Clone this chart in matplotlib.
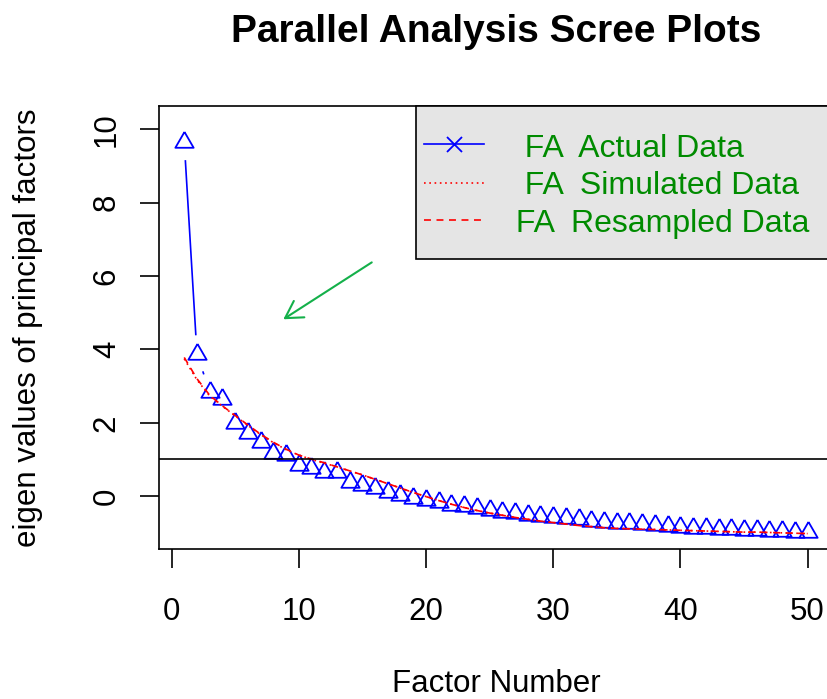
import numpy as np
import matplotlib
matplotlib.use("Agg")
import matplotlib.pyplot as plt
from matplotlib.patches import Rectangle, ArrowStyle
from matplotlib.lines import Line2D

# ---------------- data ----------------
factor_number = list(range(1, 51))
fa_actual = [9.66, 3.88, 2.84, 2.64, 1.98, 1.71, 1.47, 1.17, 1.12, 0.85,
             0.76, 0.67, 0.67, 0.38, 0.30, 0.21, 0.12, 0.03, -0.04, -0.11,
             -0.17, -0.23, -0.28, -0.33, -0.38, -0.42, -0.46, -0.50, -0.53, -0.56,
             -0.60, -0.63, -0.67, -0.70, -0.72, -0.74, -0.76, -0.79, -0.82, -0.84,
             -0.86, -0.87, -0.89, -0.90, -0.92, -0.93, -0.94, -0.96, -0.97, -0.99]
fa_simulated = [3.74, 3.17, 2.73, 2.45, 2.19, 1.93, 1.68, 1.46, 1.27, 1.12,
                1.00, 0.90, 0.80, 0.69, 0.58, 0.46, 0.34, 0.22, 0.10, -0.01,
                -0.12, -0.22, -0.31, -0.39, -0.46, -0.52, -0.58, -0.63, -0.68, -0.72,
                -0.76, -0.80, -0.83, -0.86, -0.88, -0.89, -0.90, -0.91, -0.92, -0.93,
                -0.94, -0.95, -0.96, -0.97, -0.98, -0.98, -0.99, -1.00, -1.01, -1.02]
fa_resampled = [3.78, 3.20, 2.75, 2.46, 2.20, 1.94, 1.69, 1.47, 1.28, 1.12,
                1.01, 0.91, 0.80, 0.69, 0.58, 0.46, 0.34, 0.22, 0.10, -0.01,
                -0.12, -0.22, -0.31, -0.39, -0.46, -0.52, -0.58, -0.63, -0.68, -0.72,
                -0.76, -0.80, -0.83, -0.86, -0.88, -0.89, -0.90, -0.91, -0.92, -0.93,
                -0.94, -0.95, -0.96, -0.97, -0.98, -0.98, -0.99, -1.00, -1.01, -1.02]
reference_line = 1.0
x_ticks = [0, 10, 20, 30, 40, 50]
y_ticks = [0, 2, 4, 6, 8, 10]
legend_labels = ["  FA  Actual Data", "  FA  Simulated Data", " FA  Resampled Data"]
title = "Parallel Analysis Scree Plots"
x_label = "Factor Number"
y_label = "eigen values of principal factors"
arrow_tail = (15.74, 6.37)
arrow_tip = (8.79, 4.82)

# ---------------- style ----------------
plt.rcParams['font.family'] = ['Liberation Sans', 'DejaVu Sans']
plt.rcParams['lines.scale_dashes'] = False
FS = 22.5
LW = 1.2

W, H = 827, 699
fig = plt.figure(figsize=(W / 100, H / 100), dpi=100)
left_px, right_px, top_px, bot_px = 159.3, 832.5, 105.7, 549.0
ax = fig.add_axes([left_px / W, 1 - bot_px / H, (right_px - left_px) / W, (bot_px - top_px) / H])
ax.set_xlim(-0.96, 51.96)
ax.set_ylim(-1.44, 10.64)

for s in ax.spines.values():
    s.set_linewidth(LW)
    s.set_color('black')

ax.set_xticks(x_ticks)
ax.set_yticks(y_ticks)
ax.tick_params(direction='out', length=13.7, width=LW, labelsize=FS, colors='black')
ax.tick_params(axis='x', pad=20.5)
ax.tick_params(axis='y', pad=13.3)
for lab in ax.get_yticklabels():
    lab.set_rotation(90)
    lab.set_va('center')

# triangle marker (centroid at point, like R pch=2)
tri = [(0, 1), (-0.866, -0.5), (0.866, -0.5), (0, 1)]

ax.plot(factor_number, fa_actual, linestyle='none', marker=tri, markersize=15.2,
        markerfacecolor='none', markeredgecolor='blue', markeredgewidth=1.3, zorder=3)

# type = "b" lines with gaps around the points
trans = ax.transData
pts = trans.transform(np.column_stack([factor_number, fa_actual]))
gap = 18.5
inv = trans.inverted()
for p, q in zip(pts[:-1], pts[1:]):
    d = q - p
    L = np.hypot(d[0], d[1])
    if L > 2 * gap:
        u = d / L
        a, b = inv.transform(np.array([p + u * gap, q - u * gap]))
        ax.plot([a[0], b[0]], [a[1], b[1]], color='blue', lw=LW, zorder=3,
                solid_capstyle='butt')

ax.plot(factor_number, fa_simulated, color='red', lw=LW, linestyle=(0, (1.2, 2.6)), zorder=4)
ax.plot(factor_number, fa_resampled, color='red', lw=LW, linestyle=(0, (5.0, 4.0)), zorder=4)

ax.axhline(reference_line, color='black', lw=LW, zorder=5)

# legend (R style, gray90 background, topright)
def ax_x(px):
    return (px - left_px) / (right_px - left_px)

def ax_y(py):
    return (bot_px - py) / (bot_px - top_px)

rect = Rectangle((ax_x(416), ax_y(259.3)), 1.0, 1 - ax_y(259.3), transform=ax.transAxes,
                 facecolor='#E5E5E5', edgecolor='black', lw=LW, zorder=6, clip_on=False)
ax.add_patch(rect)
row_y = [144.3, 182.7, 220.0]
base_y = [156.7, 194.0, 231.7]
styles = [dict(color='blue', linestyle='-'),
          dict(color='red', linestyle=(0, (1.2, 2.6))),
          dict(color='red', linestyle=(0, (5.0, 4.0)))]
for i in range(3):
    ax.add_line(Line2D([ax_x(424), ax_x(484)], [ax_y(row_y[i])] * 2, transform=ax.transAxes,
                       lw=LW, zorder=7, clip_on=False, **styles[i]))
    ax.text(ax_x(507), ax_y(base_y[i]), legend_labels[i], transform=ax.transAxes,
            color='#008B00', fontsize=23, ha='left', va='baseline', zorder=7)
ax.add_line(Line2D([ax_x(454)], [ax_y(row_y[0])], transform=ax.transAxes, marker='x',
                   markersize=10.8, markeredgewidth=1.3, color='blue', linestyle='none',
                   zorder=7, clip_on=False))

# annotation arrow
ax.annotate('', xy=arrow_tip, xytext=arrow_tail,
            arrowprops=dict(arrowstyle=ArrowStyle('->', head_length=1.2, head_width=0.7),
                            color='#14B04A', lw=1.5, shrinkA=0, shrinkB=0, mutation_scale=10),
            zorder=8)

# labels and title
ax.set_title(title, fontsize=28, fontweight='bold', pad=46)
ax.set_xlabel(x_label, fontsize=FS)
ax.xaxis.set_label_coords(0.5, ax_y(669.0))
ax.set_ylabel(y_label, fontsize=FS)
ax.yaxis.set_label_coords(ax_x(43.5), 0.5)

fig.savefig('out.png', dpi=100)
